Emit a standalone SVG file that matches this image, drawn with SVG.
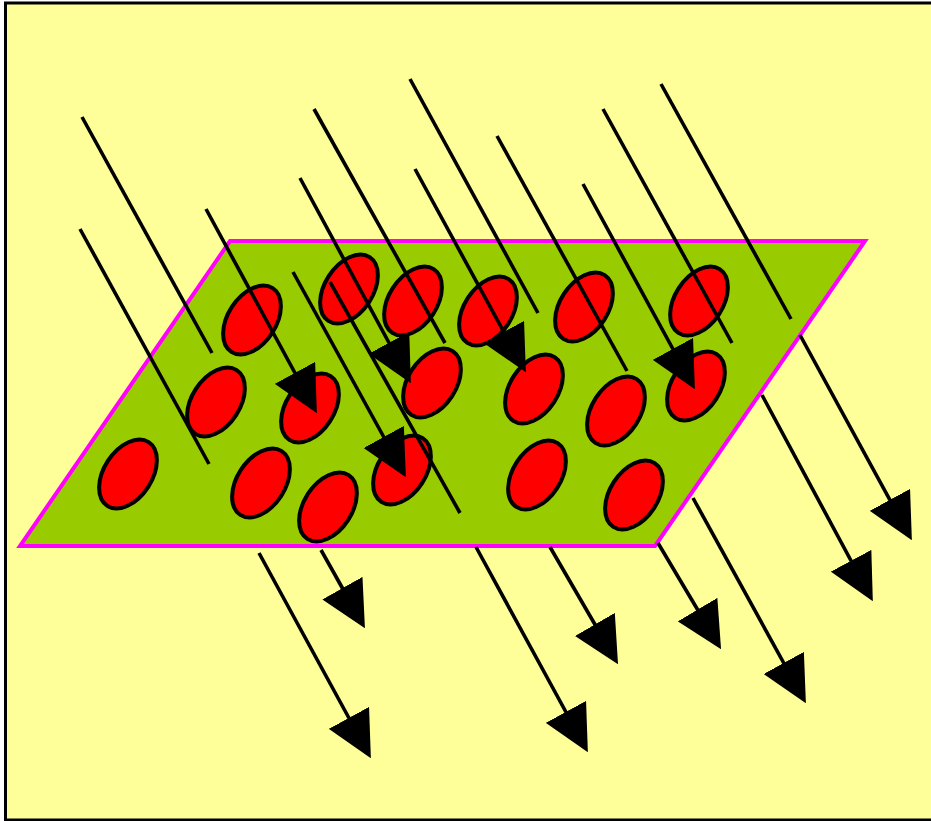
<svg xmlns="http://www.w3.org/2000/svg" width="931" height="821" viewBox="0 0 931 821">
<defs>
<style>
.cell{fill:#FF0000;stroke:#000;stroke-width:4}
.ray{stroke:#000;stroke-width:3.6;fill:none}
.arr{marker-end:url(#ah)}
</style>
<marker id="ah" markerUnits="userSpaceOnUse" markerWidth="46" markerHeight="46" viewBox="0 0 46 46" refX="40" refY="23" orient="auto">
<path d="M0,0 L46,23 L0,46 Z" fill="#000"/>
</marker>
</defs>
<rect id="background" x="5.5" y="3" width="940" height="817" fill="#FFFF99" stroke="#000" stroke-width="3"/>
<polygon id="plane" points="230,241 865,241 655,546 20,546" fill="#99CC00" stroke="#FF00FF" stroke-width="4" stroke-linejoin="miter"/>
<g id="cells">
<ellipse class="cell" cx="252" cy="320" rx="38" ry="24" transform="rotate(-57 252 320)"/>
<ellipse class="cell" cx="349" cy="289" rx="38" ry="24" transform="rotate(-57 349 289)"/>
<ellipse class="cell" cx="413" cy="301" rx="38" ry="24" transform="rotate(-57 413 301)"/>
<ellipse class="cell" cx="488" cy="311" rx="38" ry="24" transform="rotate(-57 488 311)"/>
<ellipse class="cell" cx="584" cy="307" rx="38" ry="24" transform="rotate(-57 584 307)"/>
<ellipse class="cell" cx="699" cy="301" rx="38" ry="24" transform="rotate(-57 699 301)"/>
<ellipse class="cell" cx="216" cy="402" rx="38" ry="24" transform="rotate(-57 216 402)"/>
<ellipse class="cell" cx="310" cy="408" rx="38" ry="24" transform="rotate(-57 310 408)"/>
<ellipse class="cell" cx="432" cy="383" rx="38" ry="24" transform="rotate(-57 432 383)"/>
<ellipse class="cell" cx="534" cy="389" rx="38" ry="24" transform="rotate(-57 534 389)"/>
<ellipse class="cell" cx="616" cy="411" rx="38" ry="24" transform="rotate(-57 616 411)"/>
<ellipse class="cell" cx="696" cy="386" rx="38" ry="24" transform="rotate(-57 696 386)"/>
<ellipse class="cell" cx="128" cy="474" rx="38" ry="24" transform="rotate(-57 128 474)"/>
<ellipse class="cell" cx="261" cy="483" rx="38" ry="24" transform="rotate(-57 261 483)"/>
<ellipse class="cell" cx="328" cy="507" rx="38" ry="24" transform="rotate(-57 328 507)"/>
<ellipse class="cell" cx="402" cy="470" rx="38" ry="24" transform="rotate(-57 402 470)"/>
<ellipse class="cell" cx="537" cy="475" rx="38" ry="24" transform="rotate(-57 537 475)"/>
<ellipse class="cell" cx="634" cy="495" rx="38" ry="24" transform="rotate(-57 634 495)"/>
</g>
<g id="rays">
<line class="ray" x1="82" y1="117" x2="212" y2="353"/>
<line class="ray" x1="80" y1="229" x2="209" y2="464"/>
<line class="ray arr" x1="206" y1="209" x2="314" y2="408"/>
<line class="ray arr" x1="300" y1="178" x2="408" y2="378"/>
<line class="ray arr" x1="293" y1="272" x2="403" y2="472"/>
<line class="ray" x1="314" y1="109" x2="445" y2="343"/>
<line class="ray" x1="330" y1="282" x2="460" y2="513"/>
<line class="ray" x1="410" y1="79" x2="538" y2="313"/>
<line class="ray arr" x1="415" y1="169" x2="523" y2="367"/>
<line class="ray" x1="497" y1="136" x2="627" y2="371"/>
<line class="ray arr" x1="583" y1="184" x2="692" y2="384"/>
<line class="ray" x1="603" y1="109" x2="732" y2="343"/>
<line class="ray" x1="661" y1="84" x2="791" y2="319"/>
<line class="ray arr" x1="321" y1="550" x2="362" y2="623"/>
<line class="ray arr" x1="259" y1="553" x2="368" y2="753"/>
<line class="ray arr" x1="476" y1="547" x2="585" y2="747"/>
<line class="ray arr" x1="550" y1="547" x2="615" y2="659"/>
<line class="ray arr" x1="658" y1="543" x2="718" y2="644"/>
<line class="ray arr" x1="693" y1="498" x2="803" y2="698"/>
<line class="ray arr" x1="762" y1="395" x2="870" y2="596"/>
<line class="ray arr" x1="800" y1="335" x2="909" y2="535"/>
</g>
</svg>
